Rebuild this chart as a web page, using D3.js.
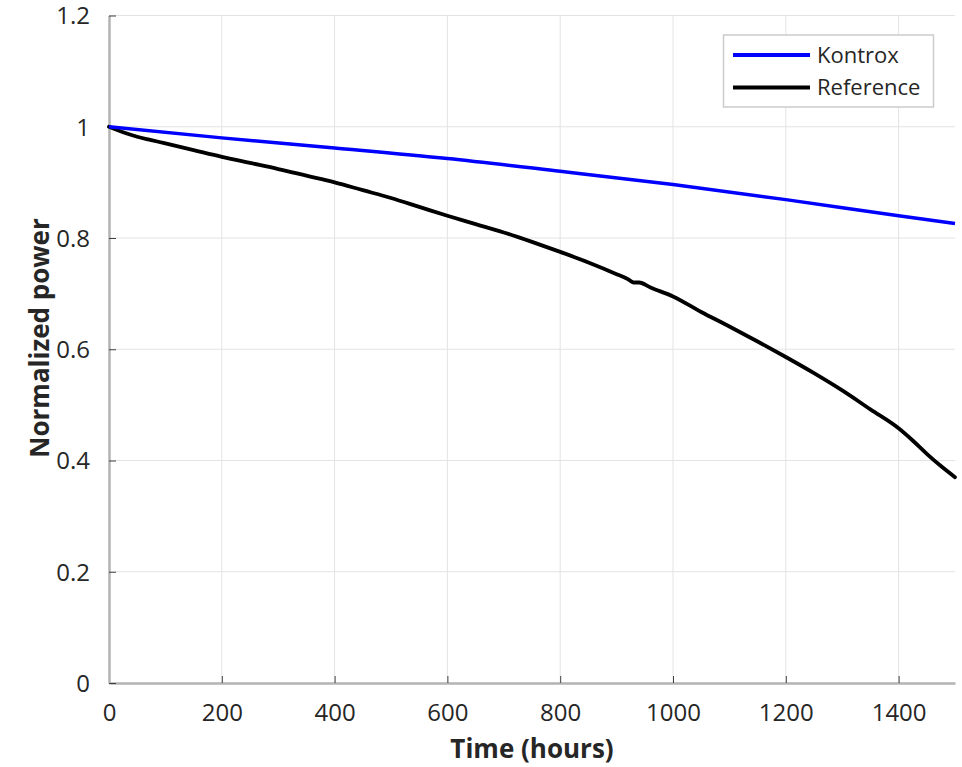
<!DOCTYPE html>
<html>
<head>
<meta charset="utf-8">
<script src="https://cdn.jsdelivr.net/npm/d3@7"></script>
<style>
  html, body { margin: 0; padding: 0; background: #fff; }
  text { font-family: "Open Sans", Lato, sans-serif; fill: #262626; }
</style>
</head>
<body>
<svg id="chart" width="962" height="767"></svg>
<script>
// ---- data ----
const seriesNames = ["Kontrox", "Reference"];
const seriesColors = ["#0000ff", "#000000"];

const kontroxHours = [0, 200, 400, 600, 800, 1000, 1200, 1400, 1500];
const kontroxPower = [1.0, 0.980, 0.962, 0.943, 0.920, 0.896, 0.869, 0.840, 0.826];

const referenceHours = [0, 25, 50, 75, 100, 150, 200, 250, 300, 350, 400, 450, 500, 550, 600, 650, 700, 750, 800, 850, 900, 920, 930, 940, 960, 1000, 1050, 1100, 1150, 1200, 1250, 1300, 1350, 1400, 1425, 1450, 1475, 1500];
const referencePower = [1.0, 0.990, 0.982, 0.976, 0.970, 0.958, 0.946, 0.935, 0.924, 0.912, 0.900, 0.886, 0.872, 0.856, 0.840, 0.825, 0.810, 0.793, 0.775, 0.756, 0.735, 0.726, 0.720, 0.720, 0.711, 0.695, 0.667, 0.641, 0.614, 0.586, 0.557, 0.526, 0.492, 0.458, 0.436, 0.412, 0.390, 0.370];

const xTicks = [0, 200, 400, 600, 800, 1000, 1200, 1400];
const yTicks = [0, 0.2, 0.4, 0.6, 0.8, 1, 1.2];
const xLabel = "Time (hours)";
const yLabel = "Normalized power";

// ---- drawing ----
const svg = d3.select("#chart");
const x = d3.scaleLinear().domain([0, 1500]).range([109, 955]);
const y = d3.scaleLinear().domain([0, 1.2]).range([683, 15.5]);

// grid
const grid = svg.append("g");
grid.selectAll("line.vx").data(xTicks.slice(1)).enter().append("line")
  .attr("x1", d => x(d)).attr("x2", d => x(d))
  .attr("y1", y(0)).attr("y2", y(1.2))
  .attr("stroke", "#e3e3e3").attr("stroke-width", 1);
grid.selectAll("line.hy").data(yTicks.slice(1)).enter().append("line")
  .attr("x1", x(0)).attr("x2", x(1500))
  .attr("y1", d => y(d)).attr("y2", d => y(d))
  .attr("stroke", "#e3e3e3").attr("stroke-width", 1);

// axes
const xAxis = d3.axisBottom(x).tickValues(xTicks).tickFormat(d3.format("d")).tickSizeInner(-7).tickSizeOuter(0).tickPadding(21);
const yAxis = d3.axisLeft(y).tickValues(yTicks).tickFormat(d => d3.format("")(d)).tickSizeInner(-7).tickSizeOuter(0).tickPadding(19);

const gx = svg.append("g").attr("transform", `translate(0,${y(0)})`).call(xAxis);
const gy = svg.append("g").attr("transform", `translate(${x(0)},0)`).call(yAxis);
[gx, gy].forEach(g => {
  g.select(".domain").attr("stroke", "#b3b3b3").attr("stroke-width", 2.5);
  g.selectAll(".tick line").attr("stroke", "#404040").attr("stroke-width", 1);
  g.selectAll(".tick text").style("font-family", "'Open Sans', sans-serif").style("font-size", "24px").attr("fill", "#262626");
});
gy.selectAll(".tick text").attr("dy", "0.35em");
gx.selectAll(".tick text").attr("dy", "0.71em");

// lines
const line = d3.line().x(d => x(d[0])).y(d => y(d[1])).curve(d3.curveMonotoneX);
const kData = kontroxHours.map((h, i) => [h, kontroxPower[i]]);
const rData = referenceHours.map((h, i) => [h, referencePower[i]]);

svg.append("path").datum(rData).attr("d", line)
  .attr("fill", "none").attr("stroke", seriesColors[1]).attr("stroke-width", 3.8)
  .attr("stroke-linejoin", "round").attr("stroke-linecap", "round");
svg.append("path").datum(kData).attr("d", line)
  .attr("fill", "none").attr("stroke", seriesColors[0]).attr("stroke-width", 3.5)
  .attr("stroke-linejoin", "round");

// axis labels
svg.append("text").attr("x", 532).attr("y", 758).attr("text-anchor", "middle")
  .style("font-size", "26px").style("font-weight", "bold").text(xLabel);
svg.append("text").attr("transform", "translate(49,338) rotate(-90)").attr("text-anchor", "middle")
  .style("font-size", "26px").style("font-weight", "bold").text(yLabel);

// legend
const lg = svg.append("g");
lg.append("rect").attr("x", 723.5).attr("y", 35).attr("width", 210).attr("height", 72)
  .attr("fill", "#fff").attr("stroke", "#cccccc").attr("stroke-width", 1.5);
seriesNames.forEach((name, i) => {
  const ly = 55 + i * 32.5;
  lg.append("line").attr("x1", 733).attr("x2", 810).attr("y1", ly).attr("y2", ly)
    .attr("stroke", seriesColors[i]).attr("stroke-width", 3.8);
  lg.append("text").attr("x", 817).attr("y", ly).attr("dy", "0.35em")
    .style("font-size", "22px").text(name);
});
</script>
</body>
</html>
